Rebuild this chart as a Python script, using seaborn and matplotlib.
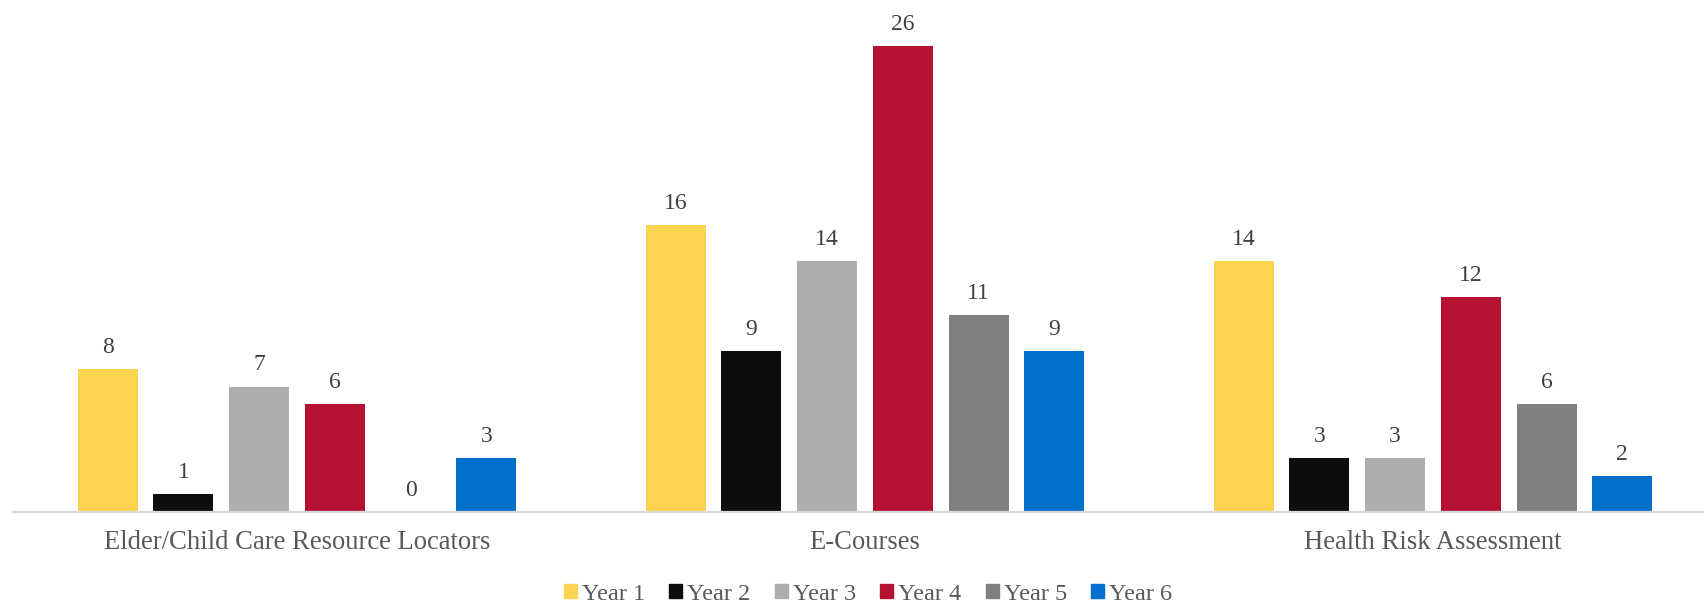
import matplotlib
matplotlib.use("Agg")
import matplotlib.pyplot as plt
import seaborn as sns
import pandas as pd

categories = ["Elder/Child Care Resource Locators", "E-Courses", "Health Risk Assessment"]
years = ["Year 1", "Year 2", "Year 3", "Year 4", "Year 5", "Year 6"]
year1 = [8, 16, 14]
year2 = [1, 9, 3]
year3 = [7, 14, 3]
year4 = [6, 26, 12]
year5 = [0, 11, 6]
year6 = [3, 9, 2]
colors = ["#FDD44F", "#0D0D0D", "#ADADAD", "#B51233", "#808080", "#0070CC"]

series = [year1, year2, year3, year4, year5, year6]
df = pd.DataFrame(
    [(c, y, v) for y, vals in zip(years, series) for c, v in zip(categories, vals)],
    columns=["category", "year", "value"],
)

sns.set_theme(style="white")
plt.rcParams["font.family"] = ["Liberation Serif", "DejaVu Serif"]

W, H = 1704, 603
fig = plt.figure(figsize=(W / 100, H / 100), dpi=100)
# plot area in pixels: left 13, baseline at 512 from top, 568 px per category
left_px, base_px, cat_px = 13, 512, 568
ax = fig.add_axes([left_px / W, (H - base_px) / H, 3 * cat_px / W, base_px / H])

sns.barplot(
    data=df, x="category", y="value", hue="year", order=categories, hue_order=years,
    palette=colors, saturation=1, width=0.8, gap=0.21, linewidth=0, errorbar=None,
    legend=False, ax=ax,
)

ax.set_xlim(-0.5, 2.5)
ax.set_ylim(0, base_px / 17.92)

for cont in ax.containers:
    ax.bar_label(cont, padding=8, fontsize=17, color="#404040")

for s in ["top", "left", "right"]:
    ax.spines[s].set_visible(False)
ax.spines["bottom"].set_color("#D9D9D9")
ax.spines["bottom"].set_linewidth(1.6)
ax.set_yticks([])
ax.set_xlabel("")
ax.set_ylabel("")
ax.tick_params(axis="x", length=0, pad=13, labelsize=19.2, labelcolor="#595959")

handles = [plt.Rectangle((0, 0), 1, 1, color=c) for c in colors]
fig.legend(
    handles, years, loc="center", bbox_to_anchor=(868 / W, 1 - 594 / H), ncol=6,
    frameon=False, fontsize=17.5, handlelength=0.54, handleheight=0.54,
    handletextpad=0.2, columnspacing=1.0, labelcolor="#595959",
    borderaxespad=0, borderpad=0,
)

fig.savefig("out.png", dpi=100)
